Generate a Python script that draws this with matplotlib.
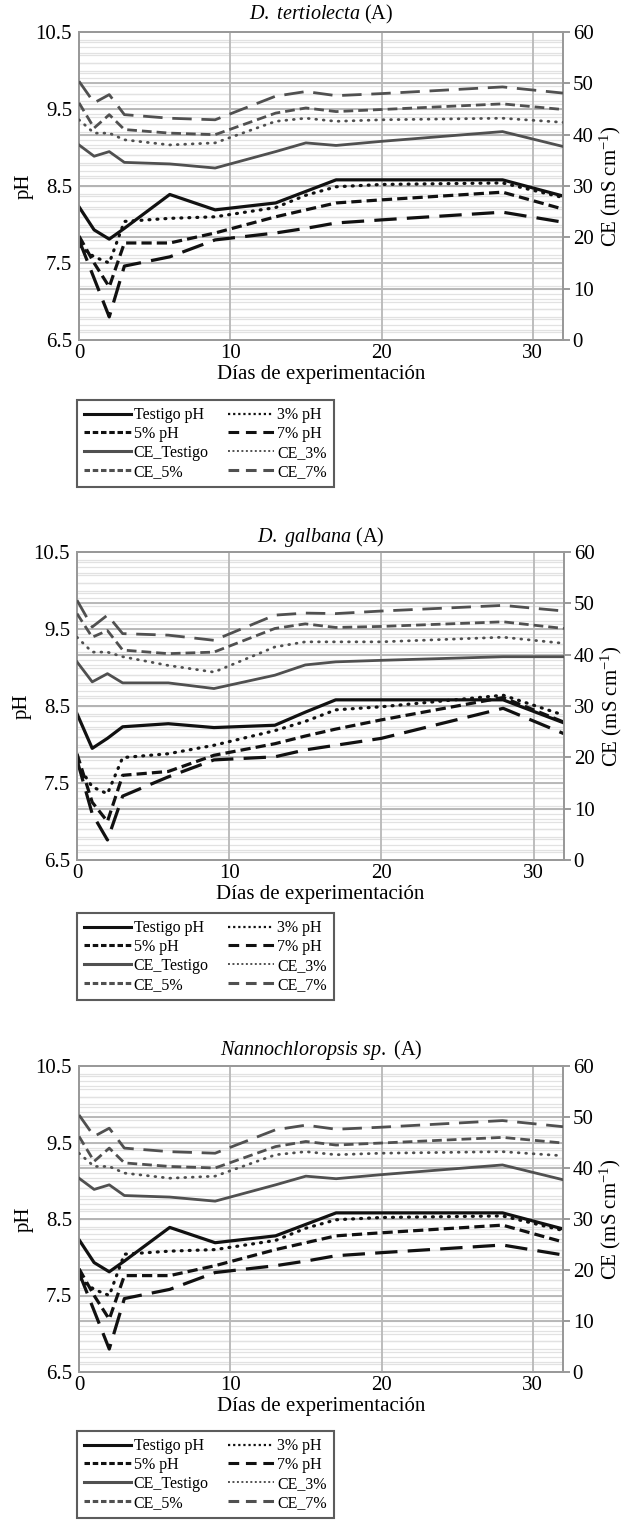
import matplotlib
matplotlib.use("Agg")
import matplotlib.pyplot as plt
from matplotlib.lines import Line2D

plt.rcParams['font.family'] = ['Liberation Serif', 'DejaVu Serif']
plt.rcParams['mathtext.fontset'] = 'custom'
plt.rcParams['mathtext.rm'] = 'Liberation Serif'
plt.rcParams['mathtext.it'] = 'Liberation Serif:italic'

# ---------------- data ----------------
days = [0, 1, 2, 3, 6, 9, 13, 15, 17, 20, 28, 32]

# D. tertiolecta
ph_testigo_A = [8.23, 7.93, 7.81, 7.95, 8.39, 8.19, 8.28, 8.43, 8.58, 8.58, 8.58, 8.37]
ph_3_A = [7.72, 7.58, 7.50, 8.04, 8.08, 8.10, 8.22, 8.38, 8.49, 8.52, 8.54, 8.35]
ph_5_A = [7.85, 7.50, 7.19, 7.76, 7.76, 7.89, 8.10, 8.19, 8.28, 8.32, 8.42, 8.20]
ph_7_A = [7.80, 7.30, 6.80, 7.46, 7.58, 7.80, 7.89, 7.95, 8.02, 8.06, 8.16, 8.03]
ce_testigo_A = [38.0, 35.8, 36.7, 34.6, 34.3, 33.5, 36.7, 38.4, 37.9, 38.7, 40.6, 37.7]
ce_3_A = [42.9, 40.3, 40.3, 39.0, 38.0, 38.4, 42.6, 43.2, 42.6, 42.9, 43.2, 42.4]
ce_5_A = [46.2, 41.3, 43.9, 41.0, 40.3, 40.0, 44.2, 45.2, 44.5, 44.9, 46.0, 44.9]
ce_7_A = [50.4, 46.2, 47.8, 43.9, 43.2, 42.9, 47.5, 48.4, 47.6, 48.0, 49.3, 48.1]

# D. galbana
ph_testigo_B = [8.40, 7.95, 8.08, 8.23, 8.27, 8.22, 8.25, 8.42, 8.58, 8.58, 8.58, 8.28]
ph_3_B = [7.75, 7.45, 7.36, 7.83, 7.88, 7.99, 8.18, 8.30, 8.45, 8.49, 8.64, 8.38]
ph_5_B = [7.88, 7.25, 7.00, 7.60, 7.65, 7.86, 8.01, 8.11, 8.20, 8.32, 8.61, 8.29]
ph_7_B = [7.80, 7.10, 6.76, 7.33, 7.58, 7.80, 7.84, 7.93, 7.99, 8.08, 8.47, 8.14]
ce_testigo_B = [38.6, 34.7, 36.3, 34.5, 34.5, 33.4, 36.0, 38.0, 38.6, 38.9, 39.6, 39.6]
ce_3_B = [43.4, 40.5, 40.5, 39.6, 37.9, 36.6, 41.5, 42.5, 42.5, 42.5, 43.4, 42.2]
ce_5_B = [48.0, 43.4, 44.7, 40.9, 40.2, 40.5, 45.1, 46.0, 45.3, 45.5, 46.4, 45.1]
ce_7_B = [50.6, 45.4, 47.7, 44.1, 43.8, 42.8, 47.7, 48.1, 48.0, 48.5, 49.6, 48.5]

# Nannochloropsis sp.
ph_testigo_C = [8.23, 7.93, 7.81, 7.95, 8.39, 8.19, 8.28, 8.43, 8.58, 8.58, 8.58, 8.37]
ph_3_C = [7.72, 7.58, 7.50, 8.04, 8.08, 8.10, 8.22, 8.38, 8.49, 8.52, 8.54, 8.35]
ph_5_C = [7.85, 7.50, 7.19, 7.76, 7.76, 7.89, 8.10, 8.19, 8.28, 8.32, 8.42, 8.20]
ph_7_C = [7.80, 7.30, 6.80, 7.46, 7.58, 7.80, 7.89, 7.95, 8.02, 8.06, 8.16, 8.03]
ce_testigo_C = [38.0, 35.8, 36.7, 34.6, 34.3, 33.5, 36.7, 38.4, 37.9, 38.7, 40.6, 37.7]
ce_3_C = [42.9, 40.3, 40.3, 39.0, 38.0, 38.4, 42.6, 43.2, 42.6, 42.9, 43.2, 42.4]
ce_5_C = [46.2, 41.3, 43.9, 41.0, 40.3, 40.0, 44.2, 45.2, 44.5, 44.9, 46.0, 44.9]
ce_7_C = [50.4, 46.2, 47.8, 43.9, 43.2, 42.9, 47.5, 48.4, 47.6, 48.0, 49.3, 48.1]

titles = [r"$\mathit{D.\ tertiolecta}$ (A)", r"$\mathit{D.\ galbana}$ (A)",
          r"$\mathit{Nannochloropsis\ sp.}$ (A)"]
labels = ["Testigo pH", "3% pH", "5% pH", "7% pH",
          "CE_Testigo", "CE_3%", "CE_5%", "CE_7%"]
xticks = [0, 10, 20, 30]
ph_ticks = [6.5, 7.5, 8.5, 9.5, 10.5]
ce_ticks = [0, 10, 20, 30, 40, 50, 60]
xlabel = "Días de experimentación"
ylabel_left = "pH"
ylabel_right = r"CE (mS cm$^{-1}$)"

panels = [
    (ph_testigo_A, ph_3_A, ph_5_A, ph_7_A, ce_testigo_A, ce_3_A, ce_5_A, ce_7_A),
    (ph_testigo_B, ph_3_B, ph_5_B, ph_7_B, ce_testigo_B, ce_3_B, ce_5_B, ce_7_B),
    (ph_testigo_C, ph_3_C, ph_5_C, ph_7_C, ce_testigo_C, ce_3_C, ce_5_C, ce_7_C),
]

# ---------------- layout ----------------
W, H = 623, 1521
fig = plt.figure(figsize=(W / 100, H / 100), dpi=100)

def rect(l, r, t, b):
    return [l / W, 1 - b / H, (r - l) / W, (b - t) / H]

boxes = [(79, 563, 32, 340), (77, 564, 552, 860), (79, 563, 1066, 1372)]
title_y = [14, 537, 1050]
legend_top = [400, 913, 1431]

BLACK = "#111111"
GRAY = "#505050"
LW_B = 2.3
LW_G = 2.0
styles = [
    dict(color=BLACK, lw=LW_B, ls="-", dash_capstyle="butt"),
    dict(color=BLACK, lw=LW_B, ls=(0, (0.3, 2.2)), dash_capstyle="round"),
    dict(color=BLACK, lw=LW_B, ls=(0, (3.2, 1.6)), dash_capstyle="butt"),
    dict(color=BLACK, lw=LW_B, ls=(0, (7, 3.2)), dash_capstyle="butt"),
    dict(color=GRAY, lw=LW_G, ls="-", dash_capstyle="butt"),
    dict(color=GRAY, lw=LW_G, ls=(0, (0.3, 2.4)), dash_capstyle="round"),
    dict(color=GRAY, lw=LW_G, ls=(0, (3.5, 1.8)), dash_capstyle="butt"),
    dict(color=GRAY, lw=LW_G, ls=(0, (7, 3.5)), dash_capstyle="butt"),
]
leg_styles = [
    dict(color=BLACK, lw=2.2, ls="-"),
    dict(color=BLACK, lw=1.6, ls=(0, (1, 1.3))),
    dict(color=BLACK, lw=2.2, ls=(0, (1.8, 0.9))),
    dict(color=BLACK, lw=2.2, ls=(0, (3.5, 2.2))),
    dict(color=GRAY, lw=2.2, ls="-"),
    dict(color=GRAY, lw=1.4, ls=(0, (1, 1.3))),
    dict(color=GRAY, lw=2.2, ls=(0, (1.8, 0.9))),
    dict(color=GRAY, lw=2.2, ls=(0, (3.5, 2.2))),
]

FS = 15
for i, data in enumerate(panels):
    ax = fig.add_axes(rect(*boxes[i]))
    ax2 = ax.twinx()
    ax.set_xlim(0, 32)
    ax.set_ylim(6.5, 10.5)
    ax2.set_ylim(0, 60)

    # grid: light minor lines, darker major lines
    for k in range(66, 105):
        ax.axhline(k / 10, color="#e2e2e2", lw=0.9, zorder=0)
    for c in range(2, 60, 2):
        ax.axhline(6.5 + c / 15, color="#e2e2e2", lw=0.9, zorder=0)
    for v in [7.5, 8.5, 9.5]:
        ax.axhline(v, color="#b4b4b4", lw=1.3, zorder=1)
    for c in [10, 20, 30, 40, 50]:
        ax.axhline(6.5 + c / 15, color="#b4b4b4", lw=1.3, zorder=1)
    for xv in [10, 20, 30]:
        ax.axvline(xv, color="#b8b8b8", lw=1.3, zorder=1)

    for j in range(4):
        ax.plot(days, data[j], zorder=3, **styles[j])
    for j in range(4, 8):
        ax2.plot(days, data[j], zorder=3, **styles[j])

    ax.set_xticks(xticks)
    ax.set_yticks(ph_ticks)
    ax.set_yticklabels([f"{v:g}" if v != 10.5 else "10.5" for v in ph_ticks])
    ax2.set_yticks(ce_ticks)
    ax.tick_params(axis="both", length=0, labelsize=FS, pad=5)
    ax.tick_params(axis="x", pad=3)
    ax2.tick_params(axis="y", length=5, width=1.2, color="#888888",
                    labelsize=FS, pad=2, direction="out")
    for a in (ax, ax2):
        for s in a.spines.values():
            s.set_color("#999999")
            s.set_linewidth(1.3)

    ax.set_ylabel(ylabel_left, fontsize=FS, labelpad=1)
    ax2.set_ylabel(ylabel_right, fontsize=FS, labelpad=3)
    ax.set_xlabel(xlabel, fontsize=FS, labelpad=1)

    l, r, t, b = boxes[i]
    fig.text(((l + r) / 2) / W, 1 - title_y[i] / H, titles[i], fontsize=14.5,
             ha="center", va="center")

    handles = [Line2D([], [], **leg_styles[j]) for j in range(8)]
    order = [0, 2, 4, 6, 1, 3, 5, 7]
    leg = fig.legend([handles[j] for j in order], [labels[j] for j in order],
                     loc="upper left", bbox_to_anchor=(77 / W, 1 - legend_top[i] / H),
                     ncol=2, fontsize=11.5, frameon=True, fancybox=False,
                     edgecolor="#333333", handlelength=2.9, handletextpad=0.2,
                     columnspacing=1.2, labelspacing=0.18, borderpad=0.45,
                     borderaxespad=0)
    leg.get_frame().set_linewidth(1.5)

fig.savefig("out.png", dpi=100)
